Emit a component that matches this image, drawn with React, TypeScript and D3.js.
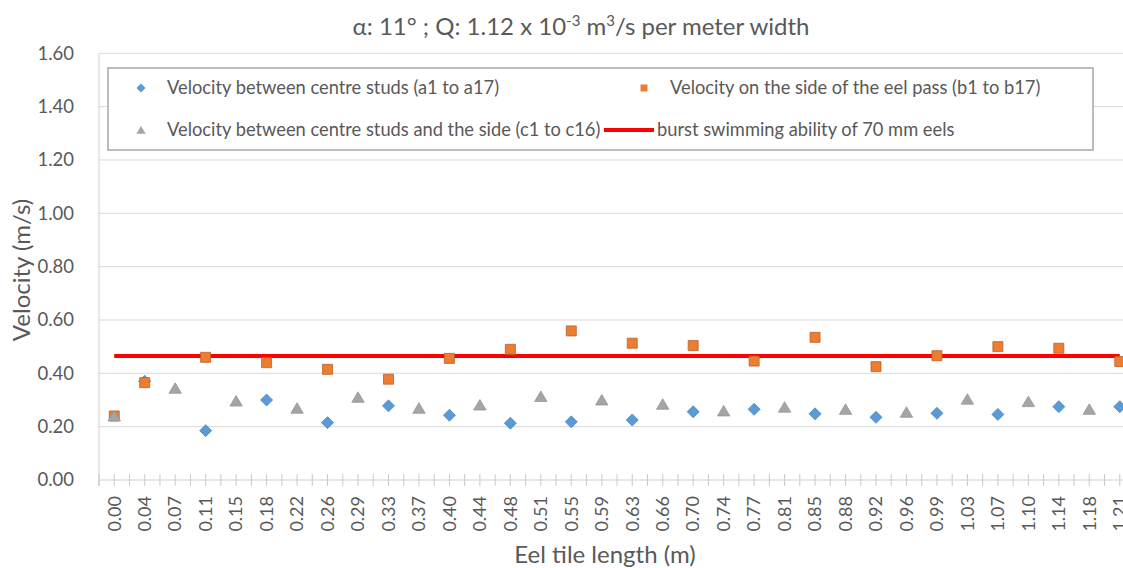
import React, { useEffect, useRef } from 'react';
import * as d3 from 'd3';

// eel tile length categories (m)
const categories = [
  '0.00', '0.04', '0.07', '0.11', '0.15', '0.18', '0.22', '0.26', '0.29', '0.33',
  '0.37', '0.40', '0.44', '0.48', '0.51', '0.55', '0.59', '0.63', '0.66', '0.70',
  '0.74', '0.77', '0.81', '0.85', '0.88', '0.92', '0.96', '0.99', '1.03', '1.07',
  '1.10', '1.14', '1.18', '1.21',
];

// a1..a17 : velocity between centre studs
const centreStuds = [
  null, 0.37, null, 0.185, null, 0.30, null, 0.215, null, 0.278,
  null, 0.243, null, 0.213, null, 0.218, null, 0.225, null, 0.256,
  null, 0.265, null, 0.248, null, 0.235, null, 0.25, null, 0.246,
  null, 0.275, null, 0.275,
];

// b1..b17 : velocity on the side of the eel pass
const sidePass = [
  0.24, 0.365, null, 0.46, null, 0.44, null, 0.415, null, 0.378,
  null, 0.456, null, 0.49, null, 0.559, null, 0.513, null, 0.504,
  null, 0.446, null, 0.535, null, 0.425, null, 0.466, null, 0.50,
  null, 0.494, null, 0.444,
];

// c1..c16 : velocity between centre studs and the side
const studsToSide = [
  0.24, null, 0.344, null, 0.296, null, 0.269, null, 0.31, null,
  0.269, null, 0.281, null, 0.313, null, 0.30, null, 0.284, null,
  0.259, null, 0.273, null, 0.265, null, 0.254, null, 0.303, null,
  0.294, null, 0.265, null,
];

const burstSpeed = 0.465; // burst swimming ability of 70 mm eels

const yTicks = [0, 0.2, 0.4, 0.6, 0.8, 1.0, 1.2, 1.4, 1.6];

const W = 1123;
const H = 568;
const FONT = 'Lato, "Open Sans", sans-serif';
const TEXT = '#595959';

const diamond = 'M0,-6L6,0L0,6L-6,0Z';
const square = 'M-5,-5L5,-5L5,5L-5,5Z';
const triangle = 'M0,-5.5L6.2,5L-6.2,5Z';

const App = () => {
  const ref = useRef<SVGSVGElement>(null);

  useEffect(() => {
    const svg = d3.select(ref.current);
    svg.selectAll('*').remove();

    const left = 99;
    const right = 1135;
    const top = 53.3;
    const bottom = 480;

    const x = d3.scalePoint<string>().domain(categories).range([left, right]).padding(0.5);
    const y = d3.scaleLinear().domain([0, 1.6]).range([bottom, top]);
    const half = x.step() / 2;

    // title
    const title = svg.append('text')
      .attr('x', 581)
      .attr('y', 35)
      .attr('text-anchor', 'middle')
      .style('font-family', FONT)
      .style('font-size', '24px')
      .style('fill', TEXT);
    title.append('tspan').text('α: 11° ; Q: 1.12 x 10');
    title.append('tspan').attr('dy', -9).style('font-size', '15px').text('-3');
    title.append('tspan').attr('dy', 9).text(' m');
    title.append('tspan').attr('dy', -9).style('font-size', '15px').text('3');
    title.append('tspan').attr('dy', 9).text('/s per meter width');

    // gridlines
    svg.append('g')
      .selectAll('line')
      .data(yTicks.slice(1))
      .join('line')
      .attr('x1', left)
      .attr('x2', W)
      .attr('y1', d => y(d))
      .attr('y2', d => y(d))
      .attr('stroke', '#d9d9d9')
      .attr('stroke-width', 1);

    // axes lines
    svg.append('line')
      .attr('x1', left).attr('x2', left)
      .attr('y1', top).attr('y2', bottom + 6)
      .attr('stroke', '#d0d0d0');
    svg.append('line')
      .attr('x1', left).attr('x2', W)
      .attr('y1', bottom).attr('y2', bottom)
      .attr('stroke', '#d0d0d0');

    // x ticks: every half category, crossing the axis
    const tickPos = d3.range(categories.length * 2 + 1).map(k => left + k * half);
    svg.append('g')
      .selectAll('line')
      .data(tickPos)
      .join('line')
      .attr('x1', d => d).attr('x2', d => d)
      .attr('y1', bottom - 6).attr('y2', bottom + 6)
      .attr('stroke', '#c8c8c8');

    // y tick labels
    svg.append('g')
      .selectAll('text')
      .data(yTicks)
      .join('text')
      .attr('x', 74)
      .attr('y', d => y(d))
      .attr('dy', '0.35em')
      .attr('text-anchor', 'end')
      .style('font-family', FONT)
      .style('font-size', '18.5px')
      .style('fill', TEXT)
      .text(d => d.toFixed(2));

    // x tick labels (rotated)
    svg.append('g')
      .selectAll('text')
      .data(categories)
      .join('text')
      .attr('transform', d => `translate(${x(d)},${bottom + 16}) rotate(-90)`)
      .attr('dy', '0.35em')
      .attr('text-anchor', 'end')
      .style('font-family', FONT)
      .style('font-size', '18px')
      .style('fill', TEXT)
      .text(d => d);

    // axis titles
    svg.append('text')
      .attr('transform', 'translate(22,270) rotate(-90)')
      .attr('dy', '0.35em')
      .attr('text-anchor', 'middle')
      .style('font-family', FONT)
      .style('font-size', '24px')
      .style('fill', TEXT)
      .text('Velocity (m/s)');
    svg.append('text')
      .attr('x', 605)
      .attr('y', 563)
      .attr('text-anchor', 'middle')
      .style('font-family', FONT)
      .style('font-size', '24px')
      .style('fill', TEXT)
      .text('Eel tile length (m)');

    // burst swimming line
    svg.append('line')
      .attr('x1', x(categories[0]))
      .attr('x2', x(categories[categories.length - 1]))
      .attr('y1', y(burstSpeed))
      .attr('y2', y(burstSpeed))
      .attr('stroke', '#ff0000')
      .attr('stroke-width', 4);

    const drawSeries = (vals: (number | null)[], path: string, fill: string, stroke: string) => {
      const pts = categories
        .map((c, i) => ({ c, v: vals[i] }))
        .filter(d => d.v !== null);
      svg.append('g')
        .selectAll('path')
        .data(pts)
        .join('path')
        .attr('transform', d => `translate(${x(d.c)},${y(d.v as number)})`)
        .attr('d', path)
        .attr('fill', fill)
        .attr('stroke', stroke)
        .attr('stroke-width', 0.8);
    };

    drawSeries(centreStuds, diamond, '#5b9bd5', '#4a86c0');
    drawSeries(sidePass, square, '#ed7d31', '#b8612a');
    drawSeries(studsToSide, triangle, '#a5a5a5', '#959595');

    // legend
    const lg = svg.append('g');
    lg.append('rect')
      .attr('x', 108).attr('y', 68)
      .attr('width', 985).attr('height', 82)
      .attr('fill', '#fff')
      .attr('stroke', '#a6a6a6')
      .attr('stroke-width', 1.5);

    const items = [
      { x: 141, y: 88, kind: 'mark', path: diamond, fill: '#5b9bd5', label: 'Velocity between centre studs (a1 to a17)', s: 0.75 },
      { x: 644, y: 88, kind: 'mark', path: square, fill: '#ed7d31', label: 'Velocity on the side of the eel pass (b1 to b17)', s: 0.7 },
      { x: 141, y: 130, kind: 'mark', path: triangle, fill: '#a5a5a5', label: 'Velocity between centre studs and the side (c1 to c16)', s: 0.75 },
      { x: 629, y: 130, kind: 'line', path: '', fill: '#ff0000', label: 'burst swimming ability of 70 mm eels', s: 1 },
    ];

    items.forEach(it => {
      if (it.kind === 'mark') {
        lg.append('path')
          .attr('transform', `translate(${it.x},${it.y}) scale(${it.s})`)
          .attr('d', it.path)
          .attr('fill', it.fill);
      } else {
        lg.append('line')
          .attr('x1', it.x - 25).attr('x2', it.x + 25)
          .attr('y1', it.y).attr('y2', it.y)
          .attr('stroke', it.fill)
          .attr('stroke-width', 4);
      }
      lg.append('text')
        .attr('x', it.kind === 'mark' ? it.x + 26 : it.x + 28)
        .attr('y', it.y)
        .attr('dy', '0.35em')
        .style('font-family', FONT)
        .style('font-size', '18.3px')
        .style('fill', TEXT)
        .text(it.label);
    });
  }, []);

  return (
    <svg
      ref={ref}
      width={W}
      height={H}
      style={{ position: 'absolute', left: 0, top: 0, background: '#fff', overflow: 'hidden' }}
    />
  );
};

export default App;
